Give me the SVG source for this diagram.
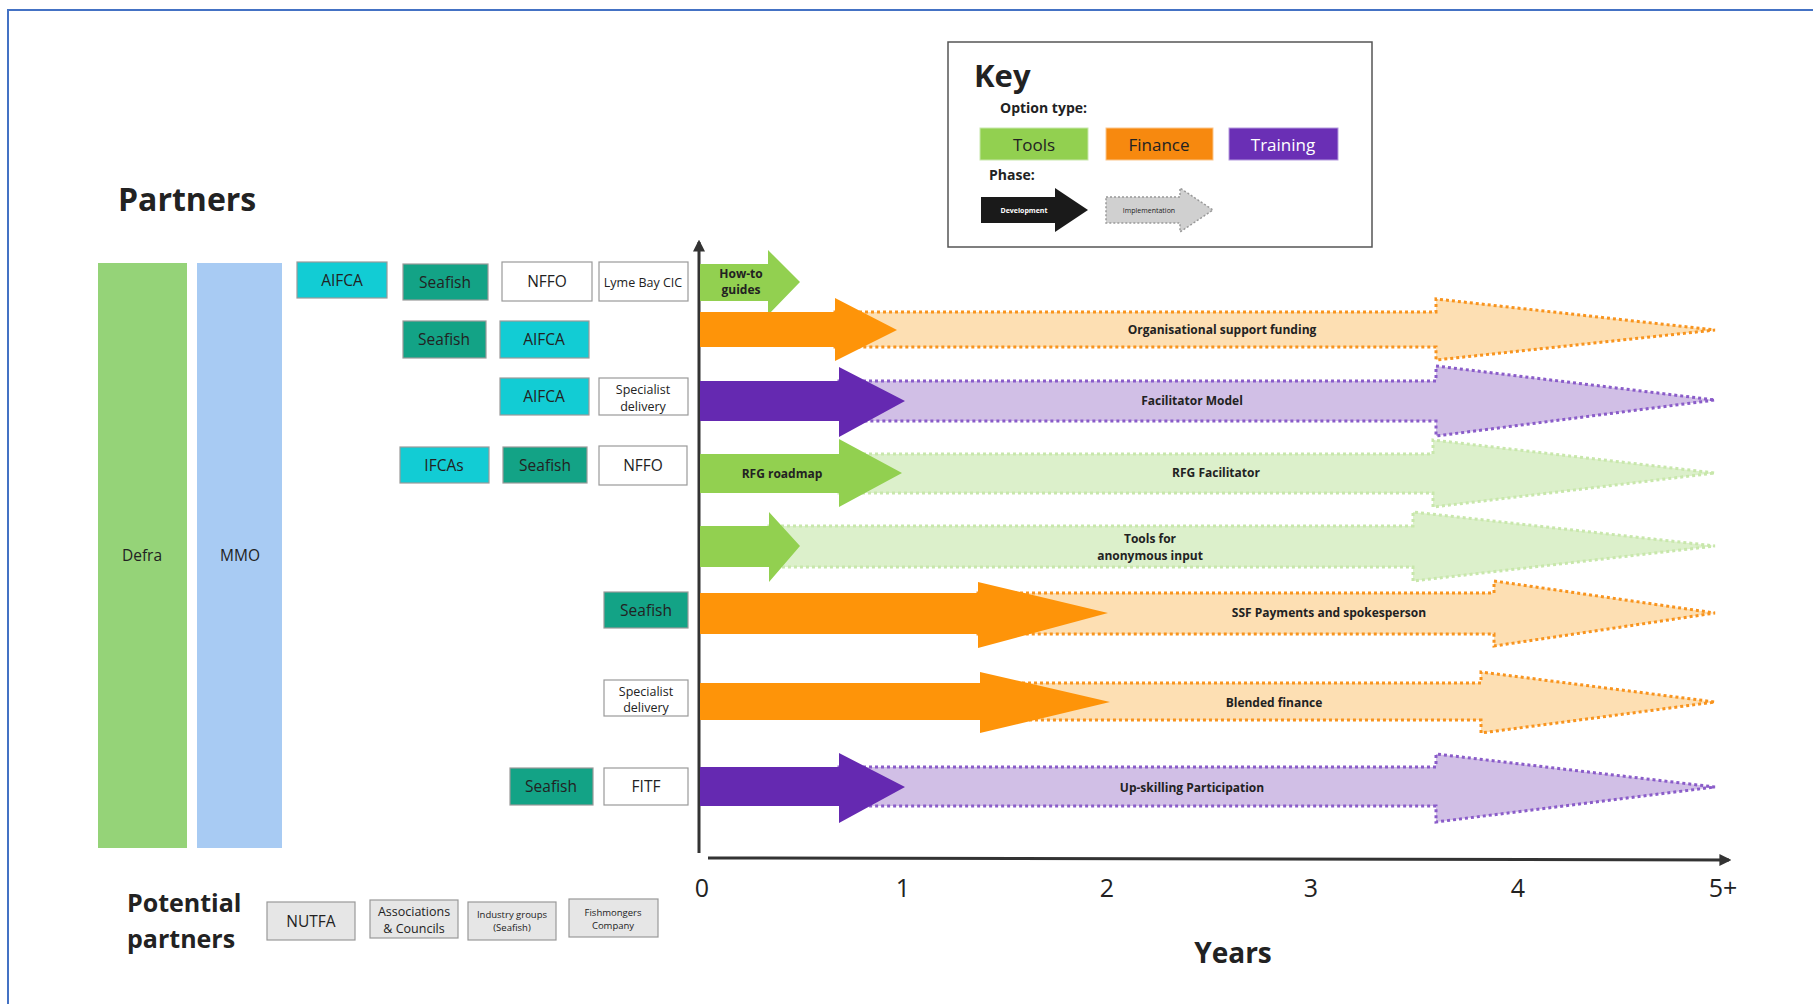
<svg xmlns="http://www.w3.org/2000/svg" width="1813" height="1004" viewBox="0 0 1813 1004">
<defs>
<style>
text{font-family:"Open Sans","Noto Sans","Liberation Sans",sans-serif;fill:#222}
.box{stroke:#9a9a9a;stroke-width:1.2}
.aifca{fill:#12ccd4}
.seafish{fill:#13a386}
.white{fill:#fff}
.pot{fill:#e6e6e6;stroke:#999;stroke-width:1.2}
.bt{font-size:15.5px;text-anchor:middle}
.st{font-size:12.5px;text-anchor:middle}
.lab{font-size:12px;font-weight:bold;text-anchor:middle}
.devO{fill:#fe9409}.devP{fill:#6529b1}.devG{fill:#92d050}
.impO{fill:#fddfb3;stroke:#f8941e;stroke-width:3;stroke-dasharray:3 3}
.impP{fill:#d1bfe6;stroke:#8a5cc9;stroke-width:3;stroke-dasharray:3 3}
.impG{fill:#dcf0cb;stroke:#c8e7ab;stroke-width:3;stroke-dasharray:3 3}
.axis{stroke:#333;stroke-width:3;fill:none}
.tick{font-size:25px;text-anchor:middle;fill:#222}
</style>
<marker id="ah" viewBox="0 0 10 10" refX="8" refY="5" markerWidth="4" markerHeight="4" orient="auto"><path d="M0,0 L10,5 L0,10 z" fill="#333"/></marker>
</defs>
<rect width="1813" height="1004" fill="#fff"/>
<path d="M8,1004 L8,10 L1813,10" fill="none" stroke="#4472c4" stroke-width="2"/>

<text x="118" y="211" font-size="32" font-weight="bold">Partners</text>

<g id="defra"><rect x="98" y="263" width="89" height="585" fill="#95d378"/><text class="bt" x="142" y="561">Defra</text></g>
<g id="mmo"><rect x="197" y="263" width="85" height="585" fill="#a8cbf3"/><text class="bt" x="240" y="561">MMO</text></g>

<g id="r1-aifca"><rect class="box aifca" x="297" y="262" width="90" height="36"/><text class="bt" x="342" y="286">AIFCA</text></g>
<g id="r1-seafish"><rect class="box seafish" x="403" y="264" width="85" height="36"/><text class="bt" x="445" y="288">Seafish</text></g>
<g id="r1-nffo"><rect class="box white" x="502" y="262" width="90" height="39"/><text class="bt" x="547" y="287">NFFO</text></g>
<g id="r1-lyme"><rect class="box white" x="599" y="262" width="89" height="39"/><text class="st" x="643" y="287">Lyme Bay CIC</text></g>

<g id="r2-seafish"><rect class="box seafish" x="403" y="321" width="83" height="37"/><text class="bt" x="444" y="345">Seafish</text></g>
<g id="r2-aifca"><rect class="box aifca" x="500" y="321" width="89" height="37"/><text class="bt" x="544" y="345">AIFCA</text></g>

<g id="r3-aifca"><rect class="box aifca" x="500" y="378" width="89" height="37"/><text class="bt" x="544" y="402">AIFCA</text></g>
<g id="r3-spec"><rect class="box white" x="599" y="378" width="89" height="37"/><text class="st" x="643" y="394">Specialist</text><text class="st" x="643" y="411">delivery</text></g>

<g id="r4-ifcas"><rect class="box aifca" x="400" y="447" width="89" height="36"/><text class="bt" x="444" y="471">IFCAs</text></g>
<g id="r4-seafish"><rect class="box seafish" x="503" y="447" width="84" height="36"/><text class="bt" x="545" y="471">Seafish</text></g>
<g id="r4-nffo"><rect class="box white" x="599" y="446" width="88" height="39"/><text class="bt" x="643" y="471">NFFO</text></g>

<g id="r6-seafish"><rect class="box seafish" x="604" y="592" width="84" height="36"/><text class="bt" x="646" y="616">Seafish</text></g>
<g id="r7-spec"><rect class="box white" x="604" y="680" width="84" height="36"/><text class="st" x="646" y="696">Specialist</text><text class="st" x="646" y="712">delivery</text></g>
<g id="r8-seafish"><rect class="box seafish" x="510" y="768" width="83" height="37"/><text class="bt" x="551" y="792">Seafish</text></g>
<g id="r8-fitf"><rect class="box white" x="604" y="768" width="84" height="37"/><text class="bt" x="646" y="792">FITF</text></g>

<text x="127" y="912" font-size="25" font-weight="bold">Potential</text>
<text x="127" y="948" font-size="25" font-weight="bold">partners</text>
<g id="p-nutfa"><rect class="pot" x="267" y="902" width="88" height="38"/><text class="bt" x="311" y="927">NUTFA</text></g>
<g id="p-assoc"><rect class="pot" x="370" y="900" width="88" height="38"/><text x="414" y="916" font-size="12.5" text-anchor="middle">Associations</text><text x="414" y="933" font-size="12.5" text-anchor="middle">&amp; Councils</text></g>
<g id="p-industry"><rect class="pot" x="468" y="902" width="88" height="38"/><text x="512" y="918" font-size="9.5" text-anchor="middle" fill="#444">Industry groups</text><text x="512" y="931" font-size="9.5" text-anchor="middle" fill="#444">(Seafish)</text></g>
<g id="p-fish"><rect class="pot" x="569" y="899" width="89" height="38"/><text x="613" y="916" font-size="9.5" text-anchor="middle" fill="#444">Fishmongers</text><text x="613" y="929" font-size="9.5" text-anchor="middle" fill="#444">Company</text></g>

<g id="key">
<rect x="948" y="42" width="424" height="205" fill="#fff" stroke="#555" stroke-width="1.5"/>
<text x="974" y="87" font-size="31" font-weight="bold">Key</text>
<text x="1000" y="113" font-size="14" font-weight="bold">Option type:</text>
<rect x="980" y="128" width="108" height="32" fill="#92d050" stroke="#c8e7ab"/>
<text x="1034" y="151" font-size="17" text-anchor="middle">Tools</text>
<rect x="1106" y="128" width="107" height="32" fill="#f7890f" stroke="#fbc58b"/>
<text x="1159" y="151" font-size="17" text-anchor="middle">Finance</text>
<rect x="1229" y="128" width="109" height="32" fill="#6a2fb5" stroke="#b49ade"/>
<text x="1283" y="151" font-size="17" text-anchor="middle" style="fill:#fff">Training</text>
<text x="989" y="180" font-size="14" font-weight="bold">Phase:</text>
<polygon points="981,197 1055,197 1055,188 1088,210 1055,232 1055,223 981,223" fill="#1a1a1a"/>
<text x="1024" y="213" font-size="7" font-weight="bold" text-anchor="middle" style="fill:#fff">Development</text>
<polygon points="1106,197 1180,197 1180,188 1213,210 1180,232 1180,223 1106,223" fill="#d0d0d0" stroke="#999" stroke-width="1.5" stroke-dasharray="2 2"/>
<text x="1149" y="213" font-size="7" text-anchor="middle" fill="#555">Implementation</text>
</g>

<g id="connectors">
<line class="axis" x1="699" y1="853" x2="699" y2="242" marker-end="url(#ah)"/>
<line class="axis" x1="708" y1="858" x2="1729" y2="860" marker-end="url(#ah)"/>
</g>
<g id="ticks">
<text class="tick" x="702" y="897">0</text>
<text class="tick" x="903" y="897">1</text>
<text class="tick" x="1107" y="897">2</text>
<text class="tick" x="1311" y="897">3</text>
<text class="tick" x="1518" y="897">4</text>
<text class="tick" x="1723" y="897">5+</text>
<text x="1233" y="963" font-size="28" font-weight="bold" text-anchor="middle">Years</text>
</g>

<g id="row1-howto">
<polygon class="devG" points="700,264 768,264 768,250 800,282 768,315 768,301 700,301"/>
<text class="lab" x="741" y="278">How-to</text><text class="lab" x="741" y="294">guides</text>
</g>

<g id="row2-org">
<polygon class="impO" points="835,312 1436,312 1436,299 1715,330 1436,360 1436,347 835,347"/>
<polygon class="devO" points="700,312 835,312 835,298 897,330 835,361 835,347 700,347"/>
<text class="lab" x="1222" y="334">Organisational support funding</text>
</g>

<g id="row3-facil">
<polygon class="impP" points="839,381 1436,381 1436,366 1715,400 1436,436 1436,421 839,421"/>
<polygon class="devP" points="700,381 839,381 839,367 905,401 839,437 839,421 700,421"/>
<text class="lab" x="1192" y="405">Facilitator Model</text>
</g>

<g id="row4-rfg">
<polygon class="impG" points="839,454 1433,454 1433,440 1715,473 1433,507 1433,493 839,493"/>
<polygon class="devG" points="700,454 839,454 839,439 902,473 839,507 839,493 700,493"/>
<text class="lab" x="782" y="478">RFG roadmap</text>
<text class="lab" x="1216" y="477">RFG Facilitator</text>
</g>

<g id="row5-tools">
<polygon class="impG" points="769,526 1413,526 1413,512 1715,546 1413,581 1413,567 769,567"/>
<polygon class="devG" points="700,526 769,526 769,512 800,546 769,582 769,567 700,567"/>
<text class="lab" x="1150" y="543">Tools for</text><text class="lab" x="1150" y="560">anonymous input</text>
</g>

<g id="row6-ssf">
<polygon class="impO" points="978,593 1494,593 1494,581 1715,613 1494,646 1494,634 978,634"/>
<polygon class="devO" points="700,593 978,593 978,582 1108,613 978,648 978,634 700,634"/>
<text class="lab" x="1329" y="617">SSF Payments and spokesperson</text>
</g>

<g id="row7-blended">
<polygon class="impO" points="980,683 1481,683 1481,672 1715,702 1481,733 1481,720 980,720"/>
<polygon class="devO" points="700,683 980,683 980,672 1110,702 980,733 980,720 700,720"/>
<text class="lab" x="1274" y="707">Blended finance</text>
</g>

<g id="row8-upskill">
<polygon class="impP" points="839,767 1436,767 1436,754 1715,787 1436,822 1436,806 839,806"/>
<polygon class="devP" points="700,767 839,767 839,753 905,787 839,823 839,806 700,806"/>
<text class="lab" x="1192" y="792">Up-skilling Participation</text>
</g>
</svg>
